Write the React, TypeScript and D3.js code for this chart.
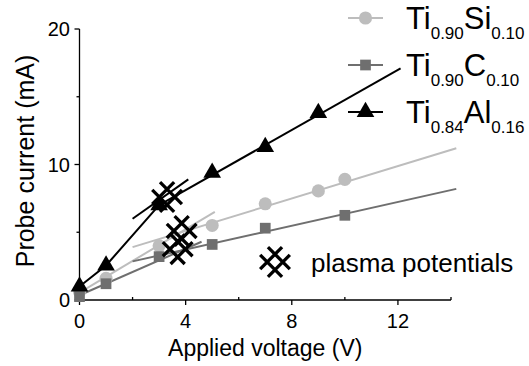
import React, { useRef, useEffect } from "react";
import * as d3 from "d3";

// measured points (applied voltage V, probe current mA)
const siPoints = [[0, 0.6], [1, 1.6], [3, 4.0], [5, 5.5], [7, 7.1], [9, 8.05], [10, 8.9]];
const cPoints = [[0, 0.25], [1, 1.2], [3, 3.2], [5, 4.1], [7, 5.3], [10, 6.25]];
const alPoints = [[0, 1.0], [1, 2.55], [3, 7.0], [5, 9.4], [7, 11.3], [9, 13.8]];

// straight fits drawn through the two regions
const siLow = [[0, 0.55], [5.1, 6.5]];
const siFit = [[2.0, 3.9], [14.2, 11.2]];
const cLow = [[0, 0.35], [4.6, 4.3]];
const cFit = [[2.0, 2.85], [14.2, 8.2]];
const alKnee = [[2.0, 6.0], [4.1, 8.9]];
const alFit = [[3, 7.0], [12.1, 17.1]];

// plasma potentials (crossing points)
const plasma = [[3.3, 7.6], [3.85, 5.1], [3.7, 3.75]];

const xMajor = [0, 4, 8, 12];
const xMinor = [2, 6, 10, 14];
const yMajor = [0, 10, 20];
const yMinor = [5, 15];

const legendItems = [
  { main1: "Ti", sub1: "0.90", main2: "Si", sub2: "0.10", key: "si" },
  { main1: "Ti", sub1: "0.90", main2: "C", sub2: "0.10", key: "c" },
  { main1: "Ti", sub1: "0.84", main2: "Al", sub2: "0.16", key: "al" },
];

const FONT = "'Liberation Sans', Arial, Helvetica, sans-serif";
const LIGHT = "#bdbdbd";
const DARK = "#6f6f6f";

const App = () => {
  const svgRef = useRef(null);

  useEffect(() => {
    const svg = d3.select(svgRef.current);
    svg.selectAll("*").remove();

    const x = d3.scaleLinear().domain([0, 14]).range([79.5, 451]);
    const y = d3.scaleLinear().domain([0, 20]).range([300, 29]);
    const line = d3.line().x((d) => x(d[0])).y((d) => y(d[1]));

    const g = svg.append("g");

    /*** axes ***/
    g.append("line").attr("x1", x(0)).attr("x2", x(14)).attr("y1", y(0)).attr("y2", y(0))
      .attr("stroke", "#000").attr("stroke-width", 1.3);
    g.append("line").attr("x1", x(0)).attr("x2", x(0)).attr("y1", y(0)).attr("y2", y(20))
      .attr("stroke", "#000").attr("stroke-width", 1.3);

    g.selectAll(".xmaj").data(xMajor).enter().append("line")
      .attr("x1", (d) => x(d)).attr("x2", (d) => x(d)).attr("y1", y(0)).attr("y2", y(0) + 5)
      .attr("stroke", "#000").attr("stroke-width", 1.3);
    g.selectAll(".xmin").data(xMinor).enter().append("line")
      .attr("x1", (d) => x(d)).attr("x2", (d) => x(d)).attr("y1", y(0) - 3).attr("y2", y(0))
      .attr("stroke", "#000").attr("stroke-width", 1.3);
    g.selectAll(".ymaj").data(yMajor).enter().append("line")
      .attr("x1", x(0) - 5).attr("x2", x(0)).attr("y1", (d) => y(d)).attr("y2", (d) => y(d))
      .attr("stroke", "#000").attr("stroke-width", 1.3);
    g.selectAll(".ymin").data(yMinor).enter().append("line")
      .attr("x1", x(0) - 3).attr("x2", x(0)).attr("y1", (d) => y(d)).attr("y2", (d) => y(d))
      .attr("stroke", "#000").attr("stroke-width", 1.3);

    g.selectAll(".xlab").data(xMajor).enter().append("text")
      .attr("x", (d) => x(d)).attr("y", 328)
      .attr("text-anchor", "middle").attr("font-family", FONT).attr("font-size", 20)
      .text((d) => d);
    g.selectAll(".ylab").data(yMajor).enter().append("text")
      .attr("x", 70).attr("y", (d) => y(d) + 7)
      .attr("text-anchor", "end").attr("font-family", FONT).attr("font-size", 20)
      .text((d) => d);

    g.append("text").attr("x", (x(0) + x(14)) / 2).attr("y", 356)
      .attr("text-anchor", "middle").attr("font-family", FONT).attr("font-size", 23)
      .text("Applied voltage (V)");
    g.append("text").attr("transform", "translate(34,161) rotate(-90)")
      .attr("text-anchor", "middle").attr("font-family", FONT).attr("font-size", 25)
      .text("Probe current (mA)");

    /*** lines ***/
    const drawLine = (data, color, w) =>
      g.append("path").attr("d", line(data)).attr("fill", "none")
        .attr("stroke", color).attr("stroke-width", w);

    drawLine(siLow, LIGHT, 2);
    drawLine(siFit, LIGHT, 2);
    drawLine(cLow, DARK, 2);
    drawLine(cFit, DARK, 2);
    drawLine(alPoints.slice(0, 3), "#000", 2);
    drawLine(alKnee, "#000", 2);
    drawLine(alFit, "#000", 2);

    /*** markers ***/
    const sym = {
      si: { type: d3.symbolCircle, size: 135, color: LIGHT },
      c: { type: d3.symbolSquare, size: 115, color: DARK },
      al: { type: d3.symbolTriangle, size: 135, color: "#000" },
    };
    const drawMarkers = (data, s) =>
      g.append("g").selectAll("path").data(data).enter().append("path")
        .attr("transform", (d) => `translate(${x(d[0])},${y(d[1])})`)
        .attr("d", d3.symbol().type(s.type).size(s.size)())
        .attr("fill", s.color);

    drawMarkers(siPoints, sym.si);
    drawMarkers(cPoints, sym.c);
    drawMarkers(alPoints, sym.al);

    /*** plasma potential marks: rotated hash ***/
    const hash = (h, d) => {
      const k = Math.SQRT1_2;
      const segs = [];
      [-d, d].forEach((o) => {
        // "/" lines
        segs.push(`M${o * k - h * k},${o * k + h * k}L${o * k + h * k},${o * k - h * k}`);
        // "\" lines
        segs.push(`M${-o * k - h * k},${o * k - h * k}L${-o * k + h * k},${o * k + h * k}`);
      });
      return segs.join("");
    };
    g.append("g").selectAll("path").data(plasma).enter().append("path")
      .attr("transform", (d) => `translate(${x(d[0])},${y(d[1])})`)
      .attr("d", hash(15.5, 5.5)).attr("fill", "none")
      .attr("stroke", "#000").attr("stroke-width", 3.3);

    /*** legend ***/
    const rowY = [18, 65, 112];
    const leg = g.append("g");
    legendItems.forEach((item, i) => {
      const s = sym[item.key];
      const cy = rowY[i];
      leg.append("line").attr("x1", 348).attr("x2", 383).attr("y1", cy).attr("y2", cy)
        .attr("stroke", s.color).attr("stroke-width", 2);
      leg.append("path").attr("transform", `translate(365.5,${cy})`)
        .attr("d", d3.symbol().type(s.type).size(s.size)()).attr("fill", s.color);
      const t = leg.append("text").attr("x", 406).attr("y", cy + 11)
        .attr("font-family", FONT).attr("font-size", 31);
      t.append("tspan").text(item.main1);
      t.append("tspan").attr("font-size", 17).attr("dy", 10).text(item.sub1);
      t.append("tspan").attr("dy", -10).text(item.main2);
      t.append("tspan").attr("font-size", 17).attr("dy", 10).text(item.sub2);
    });

    leg.append("path").attr("transform", "translate(275,262)")
      .attr("d", hash(15.5, 5.5)).attr("fill", "none")
      .attr("stroke", "#000").attr("stroke-width", 3.3);
    leg.append("text").attr("x", 311).attr("y", 272)
      .attr("font-family", FONT).attr("font-size", 26)
      .text("plasma potentials");
  }, []);

  return (
    <div style={{ position: "absolute", left: 0, top: 0 }}>
      <svg ref={svgRef} width={529} height={366} style={{ display: "block", background: "#fff" }}></svg>
    </div>
  );
};

export default App;
